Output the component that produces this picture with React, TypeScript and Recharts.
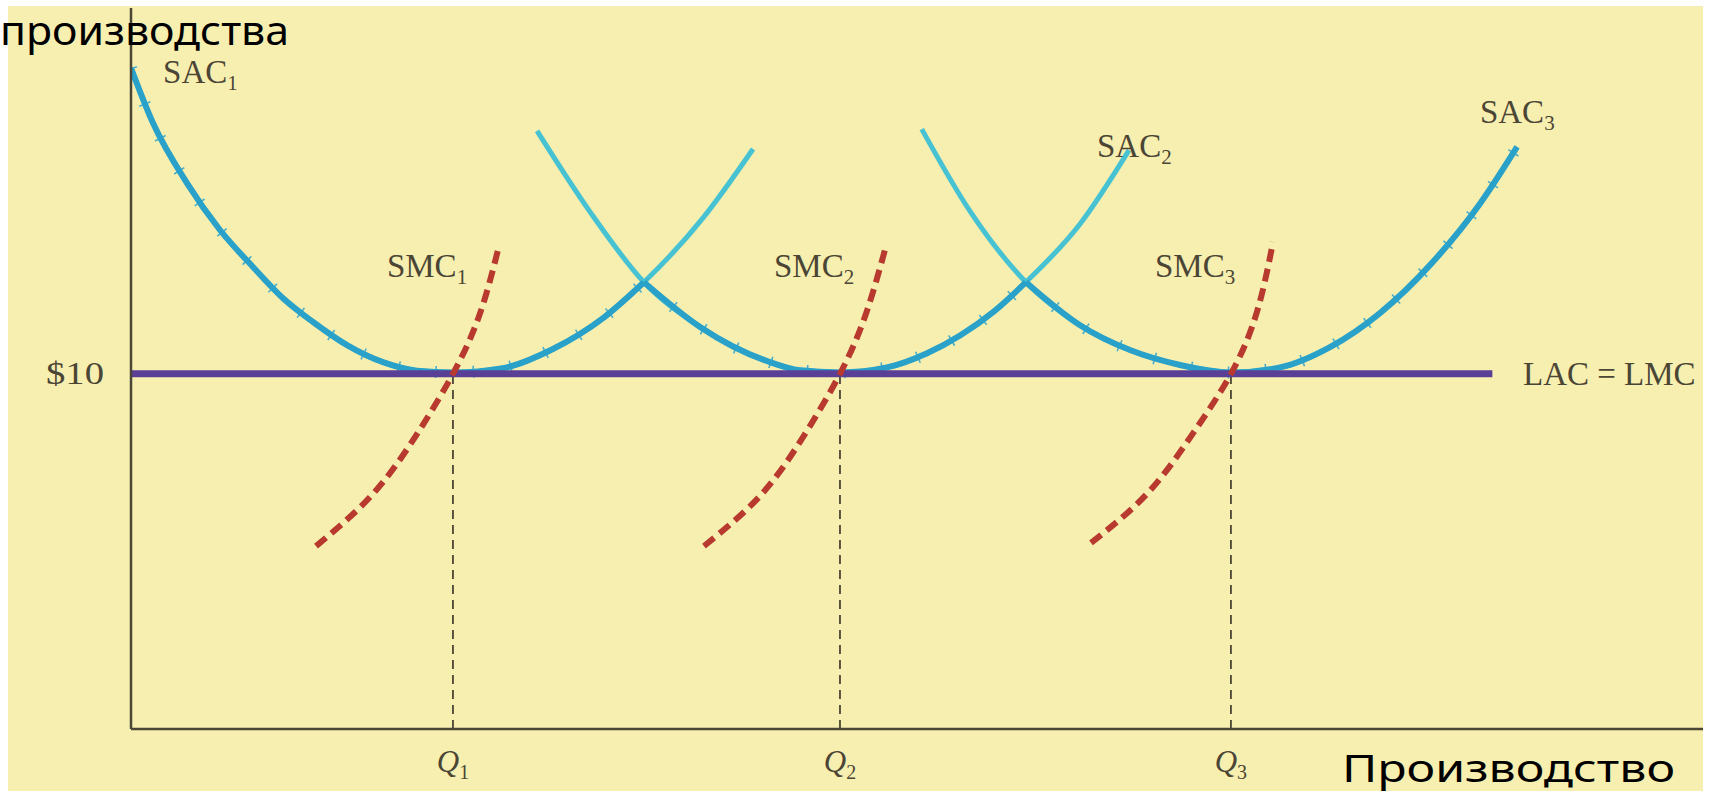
import React from 'react';
import { ComposedChart, Line, XAxis, YAxis, ReferenceLine, ReferenceDot } from 'recharts';

// short-run average cost curves (output, cost)
const sac1 = [
  { x: 0, y: 18.61 }, { x: 1.4, y: 17.06 }, { x: 3.56, y: 15.37 }, { x: 5.66, y: 14.05 },
  { x: 7.76, y: 13.01 }, { x: 9.67, y: 12.13 }, { x: 11.58, y: 11.46 }, { x: 13.74, y: 10.81 },
  { x: 16.03, y: 10.33 }, { x: 18.19, y: 10.09 }, { x: 20.48, y: 10.04 }, { x: 23.66, y: 10.16 },
  { x: 26.84, y: 10.7 }, { x: 30.03, y: 11.57 }, { x: 32.63, y: 12.58 }, { x: 36.39, y: 14.39 },
  { x: 39.57, y: 16.33 },
];
const sac2 = [
  { x: 25.83, y: 16.84 }, { x: 29.2, y: 14.56 }, { x: 32.63, y: 12.58 }, { x: 36.2, y: 11.32 },
  { x: 38.3, y: 10.77 }, { x: 40.46, y: 10.36 }, { x: 42.56, y: 10.1 }, { x: 45.1, y: 10.04 },
  { x: 48.09, y: 10.18 }, { x: 50.64, y: 10.58 }, { x: 52.74, y: 11.08 }, { x: 54.9, y: 11.76 },
  { x: 56.93, y: 12.58 }, { x: 60.37, y: 14.22 }, { x: 63.49, y: 16.3 },
];
const sac3 = [
  { x: 50.3, y: 16.89 }, { x: 53.37, y: 14.58 }, { x: 56.93, y: 12.58 }, { x: 60.37, y: 11.37 },
  { x: 63.55, y: 10.67 }, { x: 66.73, y: 10.25 }, { x: 69.97, y: 10.04 }, { x: 73.09, y: 10.18 },
  { x: 76.27, y: 10.75 }, { x: 79.45, y: 11.71 }, { x: 82.63, y: 13.06 }, { x: 85.81, y: 14.79 },
  { x: 88.17, y: 16.39 },
];

// short-run marginal cost curves
const smc1 = [
  { x: 11.77, y: 5.15 }, { x: 15.27, y: 6.56 }, { x: 18.07, y: 8.22 },
  { x: 20.48, y: 10 }, { x: 22.2, y: 11.7 }, { x: 23.41, y: 13.6 },
];
const smc2 = [
  { x: 36.45, y: 5.15 }, { x: 40.01, y: 6.56 }, { x: 42.75, y: 8.22 },
  { x: 45.1, y: 10 }, { x: 46.76, y: 11.7 }, { x: 48.03, y: 13.6 },
];
const smc3 = [
  { x: 61.07, y: 5.24 }, { x: 64.63, y: 6.62 }, { x: 67.49, y: 8.28 },
  { x: 69.97, y: 10 }, { x: 71.63, y: 11.75 }, { x: 72.65, y: 13.71 },
];

// long-run cost = $10
const price = 10;
const lac = [{ x: 0, y: 10 }, { x: 86.6, y: 10 }];

const quantities = [20.48, 45.1, 69.97];
const qSubs = ['1', '2', '3'];
const crossings = [32.63, 56.93];

const curveLabels = [
  { name: 'SAC', sub: '1', x: 2.04, y: 18.19 },
  { name: 'SMC', sub: '1', x: 16.28, y: 12.73 },
  { name: 'SAC', sub: '2', x: 61.45, y: 16.1 },
  { name: 'SMC', sub: '2', x: 40.9, y: 12.73 },
  { name: 'SAC', sub: '3', x: 85.81, y: 17.06 },
  { name: 'SMC', sub: '3', x: 65.14, y: 12.73 },
  { name: 'LAC = LMC', sub: '', x: 88.55, y: 9.68 },
];

const ink = '#4b4535';
const serif = '"Liberation Serif", "Times New Roman", serif';
const light = '#47c2d3';
const dark = '#2aa1c8';
const red = '#b8392e';
const purple = '#5a3f96';

const env1 = sac1.filter((p) => p.x <= crossings[0]);
const env2 = sac2.filter((p) => p.x >= crossings[0] && p.x <= crossings[1]);
const env3 = sac3.filter((p) => p.x >= crossings[1]);

const QTick = (props: any) => {
  const { x, y, payload } = props;
  return (
    <text x={x} y={y + 43} textAnchor="middle" fontFamily={serif} fontSize={31} fill={ink}>
      <tspan fontStyle="italic">Q</tspan>
      <tspan fontSize={20} dy={7}>{qSubs[payload.index]}</tspan>
    </text>
  );
};

const PriceTick = (props: any) => {
  const { x, y } = props;
  return (
    <text x={x - 58} y={y + 10} fontFamily={serif} fontSize={32} fill={ink}
      textLength={58} lengthAdjust="spacingAndGlyphs">
      $10
    </text>
  );
};

const CurveLabel = (props: any) => {
  const { cx, cy, name, sub } = props;
  return (
    <text x={cx} y={cy} fontFamily={serif} fontSize={33} fill={ink}>
      {name}
      {sub && <tspan fontSize={21} dy={7}>{sub}</tspan>}
    </text>
  );
};

export default function App() {
  return (
    <div style={{ position: 'absolute', left: 0, top: 0, width: 1711, height: 796, background: '#fff' }}>
      <div style={{ position: 'absolute', left: 8, top: 6, width: 1695, height: 785, background: '#f7efb0' }} />
      <div style={{ position: 'absolute', left: 0, top: 0 }}>
        <ComposedChart width={1711} height={796} margin={{ top: 8, right: 8, bottom: 0, left: 0 }}>
          <XAxis
            type="number"
            dataKey="x"
            domain={[0, 100]}
            ticks={quantities}
            tick={<QTick />}
            tickLine={false}
            tickSize={0}
            tickMargin={0}
            height={67}
            axisLine={{ stroke: ink, strokeWidth: 2.5 }}
            allowDataOverflow
          />
          <YAxis
            type="number"
            domain={[0, 20.3]}
            ticks={[price]}
            tick={<PriceTick />}
            tickLine={false}
            tickSize={0}
            tickMargin={27}
            width={131}
            axisLine={{ stroke: ink, strokeWidth: 2.5 }}
            allowDataOverflow
          />
          {quantities.map((q) => (
            <ReferenceLine
              key={q}
              segment={[{ x: q, y: 0 }, { x: q, y: price }]}
              stroke={ink}
              strokeWidth={1.8}
              strokeDasharray="9 6"
            />
          ))}
          {[sac1, sac2, sac3].map((d, i) => (
            <Line key={'sac' + i} data={d} dataKey="y" type="monotone" stroke={light} strokeWidth={5}
              dot={false} isAnimationActive={false} />
          ))}
          {[env1, env2, env3].map((d, i) => (
            <Line key={'tk' + i} data={d} dataKey="y" type="monotone" stroke="#4aaecb" strokeWidth={12}
              strokeDasharray="1.6 36" dot={false} isAnimationActive={false} />
          ))}
          {[env1, env2, env3].map((d, i) => (
            <Line key={'env' + i} data={d} dataKey="y" type="monotone" stroke={dark} strokeWidth={6}
              dot={false} isAnimationActive={false} />
          ))}
          <Line data={lac} dataKey="y" type="linear" stroke={purple} strokeWidth={7} dot={false}
            isAnimationActive={false} />
          {[smc1, smc2, smc3].map((d, i) => (
            <Line key={'smc' + i} data={d} dataKey="y" type="natural" stroke={red} strokeWidth={6}
              strokeDasharray="13 7" dot={false} isAnimationActive={false} />
          ))}
          {curveLabels.map((l) => (
            <ReferenceDot
              key={l.name + l.sub}
              x={l.x}
              y={l.y}
              r={0}
              ifOverflow="visible"
              shape={(p: any) => <CurveLabel cx={p.cx} cy={p.cy} name={l.name} sub={l.sub} />}
            />
          ))}
        </ComposedChart>
      </div>
      <svg width={1711} height={796} style={{ position: 'absolute', left: 0, top: 0, pointerEvents: 'none' }}>
        <text x={0} y={45} fontFamily='"Noto Sans", sans-serif' fontSize={40} fill="#000"
          textLength={289} lengthAdjust="spacingAndGlyphs">
          производства
        </text>
        <text x={1342} y={782} fontFamily='"Noto Sans", sans-serif' fontSize={38} fill="#000"
          textLength={333} lengthAdjust="spacingAndGlyphs">
          Производство
        </text>
      </svg>
    </div>
  );
}
